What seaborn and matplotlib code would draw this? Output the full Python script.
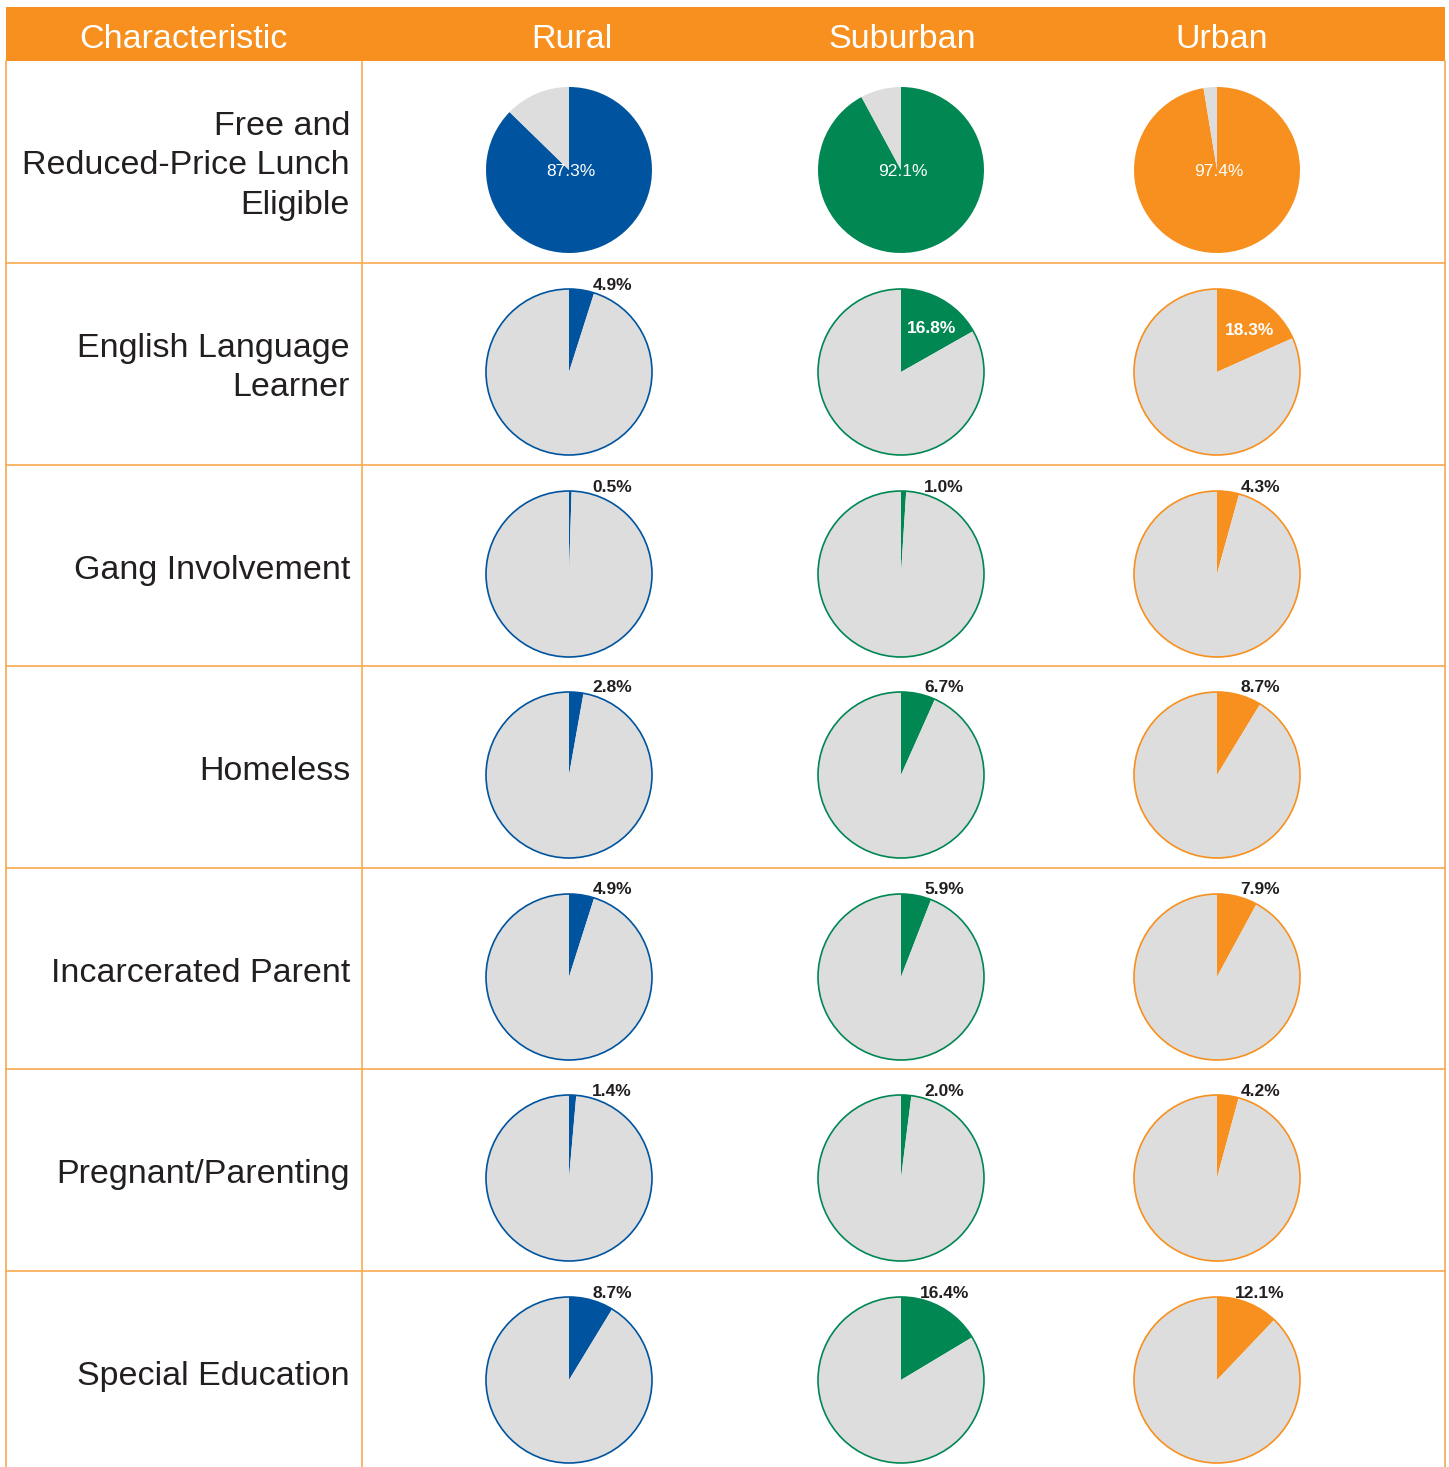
import numpy as np
import matplotlib
matplotlib.use("Agg")
import matplotlib.pyplot as plt
import seaborn as sns

groups = ["Rural", "Suburban", "Urban"]
characteristics = [
    "Free and\nReduced-Price Lunch\nEligible",
    "English Language\nLearner",
    "Gang Involvement",
    "Homeless",
    "Incarcerated Parent",
    "Pregnant/Parenting",
    "Special Education",
]
rural = [87.3, 4.9, 0.5, 2.8, 4.9, 1.4, 8.7]
suburban = [92.1, 16.8, 1.0, 6.7, 5.9, 2.0, 16.4]
urban = [97.4, 18.3, 4.3, 8.7, 7.9, 4.2, 12.1]

sns.set_theme(style="white")
plt.rcParams["font.family"] = ["Liberation Sans", "DejaVu Sans"]

blue = "#00549F"
green = "#008752"
orange = "#F7901E"
grey = "#DDDDDD"
line_col = "#F8A850"
colors = [blue, green, orange]
values = [rural, suburban, urban]

W, H = 1449, 1467
fig = plt.figure(figsize=(W / 100, H / 100), dpi=100)
ax = fig.add_axes([0, 0, 1, 1])
ax.set_xlim(0, W)
ax.set_ylim(H, 0)
ax.axis("off")

# header band
ax.add_patch(plt.Rectangle((6, 7), 1439, 54, color=orange, lw=0))
ax.text(183, 40, "Characteristic", color="white", fontsize=24.5, ha="center", va="center")
col_x = [569, 901, 1217]
head_x = [572, 902, 1222]
for hx, g in zip(head_x, groups):
    ax.text(hx, 40, g, color="white", fontsize=24.5, ha="center", va="center")

# grid lines
row_tops = [61, 263, 465, 666, 868, 1069, 1271]
for y in row_tops[1:]:
    ax.plot([6, 1445], [y, y], color=line_col, lw=1.2)
for x in [6, 362, 1444.5]:
    ax.plot([x, x], [61, H], color=line_col, lw=1.2)

r = 83
labels = []
for i, (top, label) in enumerate(zip(row_tops, characteristics)):
    ax.text(350, top + 105, label, fontsize=24.5, ha="right", va="center",
            color="#231F20", linespacing=1.35)
    cy = top + 109
    for j in range(3):
        cx = col_x[j]
        v = values[j][i]
        pad = 1.03
        pax = fig.add_axes([(cx - r * pad) / W, 1 - (cy + r * pad) / H,
                            2 * r * pad / W, 2 * r * pad / H])
        pax.pie([v, 100 - v], colors=[colors[j], grey], startangle=90,
                counterclock=False, radius=1, wedgeprops=dict(lw=0))
        if i > 0:
            pax.add_patch(plt.Circle((0, 0), 1, fill=False, ec=colors[j], lw=1.2))
        pax.set_xlim(-pad, pad)
        pax.set_ylim(-pad, pad)
        pax.axis("off")
        labels.append((i, cx, cy, v))

# labels on a transparent overlay so they sit above the pies
top_ax = fig.add_axes([0, 0, 1, 1])
top_ax.set_xlim(0, W)
top_ax.set_ylim(H, 0)
top_ax.axis("off")
top_ax.patch.set_alpha(0)
for i, cx, cy, v in labels:
    txt = f"{v:.1f}%"
    if i == 0:
        top_ax.text(cx + 2, cy + 2, txt, color="white", fontsize=12.5,
                    ha="center", va="center")
    elif v >= 16.5:
        ang = np.deg2rad(v / 2 * 3.6)
        top_ax.text(cx + 0.72 * r * np.sin(ang), cy - 0.6 * r * np.cos(ang), txt,
                    color="white", fontsize=12.5, fontweight="bold",
                    ha="center", va="center")
    else:
        top_ax.text(cx + 0.52 * r, cy - r - 4, txt, color="#231F20",
                    fontsize=12.5, fontweight="bold", ha="center", va="center")

fig.savefig("out.png", dpi=100, facecolor="white")
